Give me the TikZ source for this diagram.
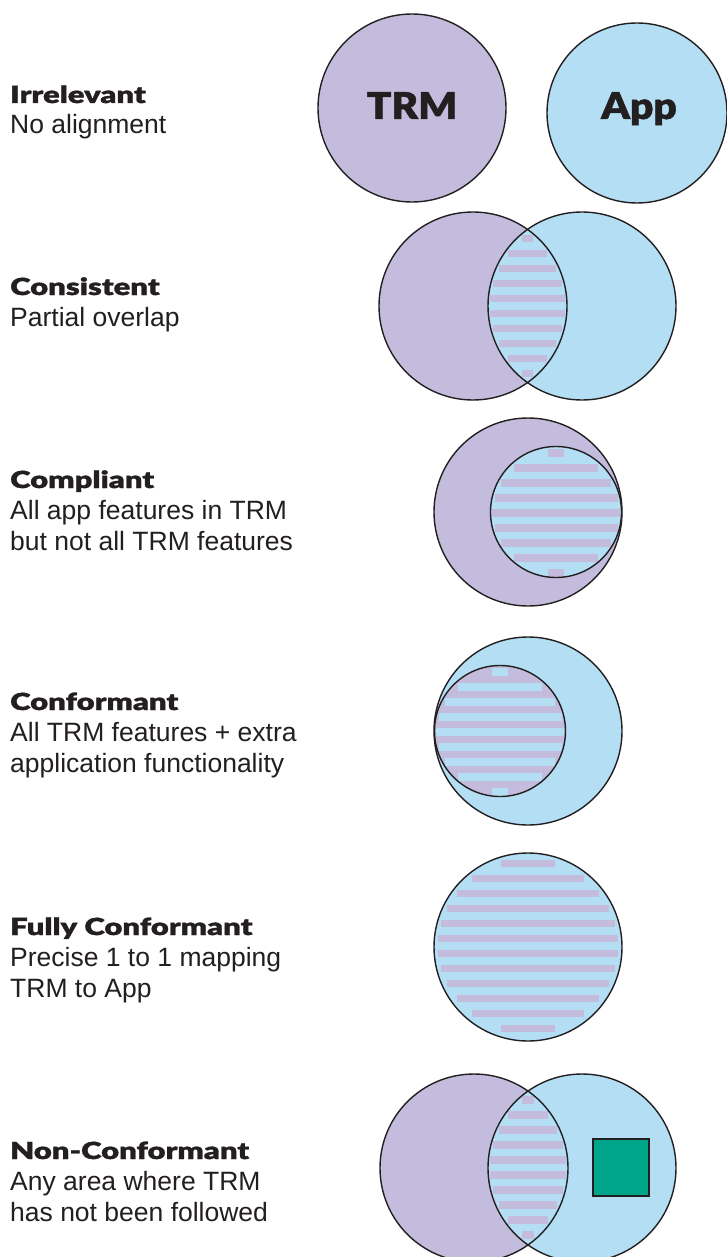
\documentclass[tikz,border=0pt]{standalone}
\usepackage{fontspec}
\setmainfont{Liberation Sans}
\newfontfamily\heavy{Lato Black}[FakeStretch=1.32,FakeBold=1.2]
\newfontfamily\heavybig{Lato Black}[FakeStretch=1.1,FakeBold=1.2]
\definecolor{trm}{RGB}{195,188,220}
\definecolor{app}{RGB}{179,222,244}
\definecolor{edgec}{RGB}{35,31,32}
\definecolor{sq}{RGB}{0,166,138}
% bars inside a circle: cx cy r' n colour
\newcommand{\barsCircle}[5]{%
  \foreach \k in {1,...,#4}{%
    \pgfmathsetmacro{\yc}{#2+(\k-(#4+1)/2)*15}%
    \pgfmathsetmacro{\dd}{abs(\yc-#2)+3.75}%
    \pgfmathsetmacro{\hw}{sqrt(max(#3*#3-\dd*\dd,0))}%
    \fill[#5] (#1-\hw,\yc-3.75) rectangle (#1+\hw,\yc+3.75);%
  }}
% bars inside a lens: mx cy r' halfsep n colour
\newcommand{\barsLens}[6]{%
  \foreach \k in {1,...,#5}{%
    \pgfmathsetmacro{\yc}{#2+(\k-(#5+1)/2)*15}%
    \pgfmathsetmacro{\dd}{abs(\yc-#2)+3.75}%
    \pgfmathsetmacro{\hw}{max(sqrt(max(#3*#3-\dd*\dd,0))-#4,0)}%
    \fill[#6] (#1-\hw,\yc-3.75) rectangle (#1+\hw,\yc+3.75);%
  }}
\begin{document}
\begin{tikzpicture}[x=1pt,y=-1pt,
  head/.style={anchor=base west,inner sep=0pt,font=\heavy\fontsize{23.5}{28}\selectfont,text=edgec},
  body/.style={anchor=base west,inner sep=0pt,font=\fontsize{26.5}{31}\selectfont,text=edgec},
  big/.style={inner sep=0pt,font=\heavybig\fontsize{37}{40}\selectfont,text=edgec},
  outl/.style={draw=edgec,line width=1.4pt}]
\useasboundingbox (0,0) rectangle (726,1257);
\fill[white] (0,0) rectangle (726,1257);

% Row 1: Irrelevant
\node[head] (h1) at (10,103) {Irrelevant};
\node[body] (b1) at (10,134) {No alignment};
\filldraw[fill=trm,outl] (412,108) circle (94);
\filldraw[fill=app,outl] (637,113) circle (90);
\node[big,anchor=base] (trm) at (412,119) {TRM};
\node[big,anchor=base] (app) at (639,119) {App};

% Row 2: Consistent
\node[head] (h2) at (10,295) {Consistent};
\node[body] (b2) at (10,326) {Partial overlap};
\fill[trm] (473,306) circle (94);
\fill[app] (582,306) circle (94);
\barsLens{527.5}{306}{93}{54.5}{10}{trm}
\draw[outl] (473,306) circle (94);
\draw[outl] (582,306) circle (94);

% Row 3: Compliant
\node[head] (h3) at (10,488) {Compliant};
\node[body] (b3a) at (10,519) {All app features in TRM};
\node[body] (b3b) at (10,550) {but not all TRM features};
\fill[trm] (528,512) circle (94);
\fill[app] (556,512) circle (65.5);
\barsCircle{556}{513}{64.3}{9}{trm}
\draw[outl] (528,512) circle (94);
\draw[outl] (556,512) circle (65.5);

% Row 4: Conformant
\node[head] (h4) at (10,710) {Conformant};
\node[body] (b4a) at (10,741) {All TRM features + extra};
\node[body] (b4b) at (10,772) {application functionality};
\fill[app] (528,731) circle (94);
\fill[trm] (500,731) circle (65.5);
\barsCircle{500}{732}{64.3}{9}{app}
\draw[outl] (528,731) circle (94);
\draw[outl] (500,731) circle (65.5);

% Row 5: Fully Conformant
\node[head] (h5) at (10,935) {Fully Conformant};
\node[body] (b5a) at (10,966) {Precise 1 to 1 mapping};
\node[body] (b5b) at (10,997) {TRM to App};
\fill[app] (528,947) circle (94);
\barsCircle{528}{946}{90.5}{12}{trm}
\draw[outl] (528,947) circle (94);

% Row 6: Non-Conformant
\node[head] (h6) at (10,1159) {Non-Conformant};
\node[body] (b6a) at (10,1190) {Any area where TRM};
\node[body] (b6b) at (10,1221) {has not been followed};
\fill[trm] (474,1168) circle (94);
\fill[app] (582,1168) circle (94);
\barsLens{528}{1167.5}{93}{54}{10}{trm}
\draw[outl] (474,1168) circle (94);
\draw[outl] (582,1168) circle (94);
\filldraw[fill=sq,draw=edgec,line width=1.4pt] (593,1139) rectangle (649,1196);
\end{tikzpicture}
\end{document}
